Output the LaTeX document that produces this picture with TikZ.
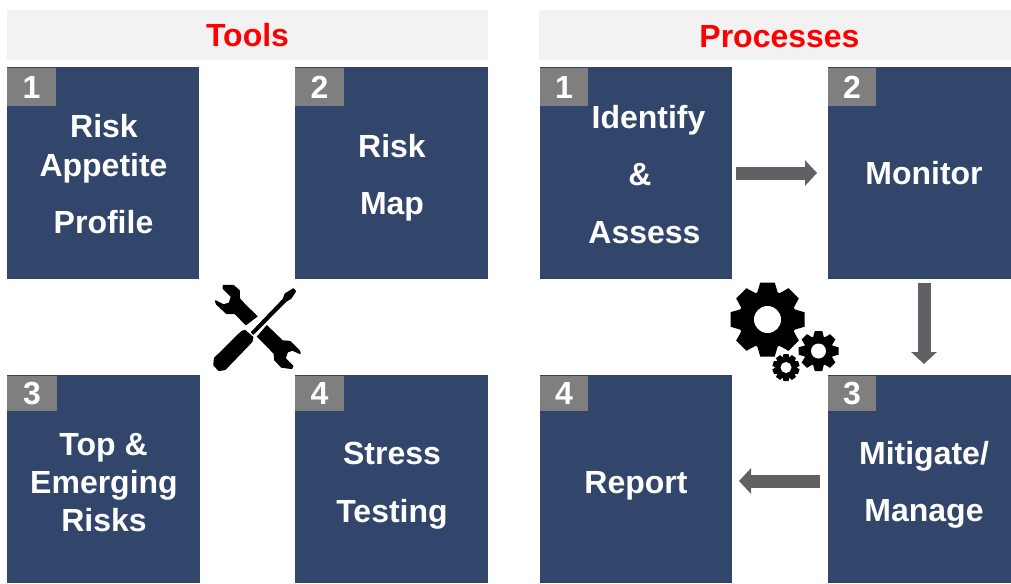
\documentclass[tikz,border=0pt]{standalone}
\usepackage{fontspec}
\setmainfont{Liberation Sans}
\usetikzlibrary{arrows.meta}
\def\px{0.75pt}
\definecolor{boxblue}{RGB}{50,70,107}
\definecolor{taggrey}{RGB}{127,127,127}
\definecolor{arrowgrey}{RGB}{97,97,101}
\definecolor{barcol}{RGB}{242,242,242}
\tikzset{
	panelbox/.style={fill=boxblue,anchor=north west,inner sep=0,outer sep=0},
	tagbox/.style={fill=taggrey,anchor=north west,inner sep=0,outer sep=0,text=white,font=\bfseries\fontsize{24pt}{24pt}\selectfont},
	headbar/.style={fill=barcol,anchor=north west,inner sep=0,outer sep=0,minimum height=50*\px},
	headtext/.style={anchor=base,text=red,font=\bfseries\fontsize{24pt}{24pt}\selectfont},
	boxtext/.style={anchor=base,text=white,font=\bfseries\fontsize{24pt}{24pt}\selectfont},
	flowarrow/.style={draw=arrowgrey,line width=13*\px,-{Triangle[length=12*\px,width=25*\px]}},
	toolshape/.style={fill=black,draw=black,line width=1.5*\px,line join=round}
}
% teeth are trapezoids on a disc: center, outer radius, root radius, hole radius, teeth
\newcommand{\gearicon}[5]{
	\fill[black] #1 circle (#3);
	\foreach \a in {1,...,#5} {
		\fill[black,shift={#1},rotate=\a*360/#5]
			(-#3*0.36,#3*0.9) -- (-#3*0.25,#2) -- (#3*0.25,#2) -- (#3*0.36,#3*0.9) -- cycle;
	}
	\fill[white] #1 circle (#4);
}
\begin{document}
\begin{tikzpicture}[x=\px,y=-\px]
	\useasboundingbox (0,0) rectangle (1011,583);
	% headers
	\node[headbar,minimum width=481*\px] (toolsbar) at (7,10) {};
	\node[headbar,minimum width=472*\px] (procbar) at (539,10) {};
	\node[headtext] (toolstitle) at (247.5,46) {Tools};
	\node[headtext] (proctitle) at (779.5,47) {Processes};
	% tools
	\node[panelbox,minimum width=192*\px,minimum height=212*\px] (riskprofile) at (7,67) {};
	\node[panelbox,minimum width=193*\px,minimum height=212*\px] (riskmap) at (295,67) {};
	\node[panelbox,minimum width=193*\px,minimum height=208*\px] (toprisks) at (7,375) {};
	\node[panelbox,minimum width=193*\px,minimum height=208*\px] (stresstest) at (295,375) {};
	\node[tagbox,minimum width=49*\px,minimum height=38*\px] (toolone) at (7,68) {1};
	\node[tagbox,minimum width=49*\px,minimum height=38*\px] (tooltwo) at (295,68) {2};
	\node[tagbox,minimum width=50*\px,minimum height=35*\px] (toolthree) at (7,376) {3};
	\node[tagbox,minimum width=49*\px,minimum height=35*\px] (toolfour) at (295,376) {4};
	\node[boxtext] (riskA) at (104,137) {Risk};
	\node[boxtext] (riskB) at (103.5,176) {Appetite};
	\node[boxtext] (riskC) at (103.5,233) {Profile};
	\node[boxtext] (mapA) at (392,157) {Risk};
	\node[boxtext] (mapB) at (392,214) {Map};
	\node[boxtext] (topA) at (103.5,455) {Top \&};
	\node[boxtext] (topB) at (104,493.5) {Emerging};
	\node[boxtext] (topC) at (104,531) {Risks};
	\node[boxtext] (stressA) at (392,464) {Stress};
	\node[boxtext] (stressB) at (392,522) {Testing};
	% processes
	\node[panelbox,minimum width=192*\px,minimum height=212*\px] (identify) at (540,67) {};
	\node[panelbox,minimum width=183*\px,minimum height=212*\px] (monitor) at (828,67) {};
	\node[panelbox,minimum width=183*\px,minimum height=208*\px] (mitigate) at (828,375) {};
	\node[panelbox,minimum width=192*\px,minimum height=208*\px] (report) at (540,375) {};
	\node[tagbox,minimum width=48*\px,minimum height=38*\px] (procone) at (540,68) {1};
	\node[tagbox,minimum width=48*\px,minimum height=38*\px] (proctwo) at (828,68) {2};
	\node[tagbox,minimum width=48*\px,minimum height=35*\px] (procthree) at (828,376) {3};
	\node[tagbox,minimum width=48*\px,minimum height=35*\px] (procfour) at (540,376) {4};
	\node[boxtext] (idA) at (648.5,128) {Identify};
	\node[boxtext] (idB) at (640,185) {\&};
	\node[boxtext] (idC) at (644.5,243) {Assess};
	\node[boxtext] (monA) at (924,184) {Monitor};
	\node[boxtext] (mitA) at (924,464) {Mitigate/};
	\node[boxtext] (mitB) at (924,521.5) {Manage};
	\node[boxtext] (repA) at (636,493) {Report};
	% flow
	\draw[flowarrow,shorten <=4*\px,shorten >=11*\px] (identify.east) -- (monitor.west);
	\draw[flowarrow,shorten <=4*\px,shorten >=11*\px] ([xshift=4.5*\px]monitor.south) -- ([xshift=4.5*\px]mitigate.north);
	\draw[flowarrow,shorten <=8*\px,shorten >=7*\px] ([yshift=-2*\px]mitigate.west) -- ([yshift=-2*\px]report.east);
	% wrench and screwdriver
	\begin{scope}[shift={(200,270)},scale=1/3]
		\draw[toolshape] (70,47) -- (100,47) -- (117,62) -- (117,85) -- (135,105) -- (247,213) -- (270,215) -- (298,243) -- (300,250)
			-- (278,240) -- (262,245) -- (255,265) -- (278,288) -- (275,295) -- (245,291) -- (225,270) -- (223,250)
			-- (105,130) -- (80,130) -- (50,102) -- (47,93) -- (70,105) -- (88,100) -- (95,80) -- (70,55) -- cycle;
		\fill[white] (262,72) -- (272,82) -- (165,205) -- (125,172) -- (140,165) -- cycle;
		\draw[toolshape] (280,57) -- (286,64) -- (272,85) -- (258,93) -- (160,192) -- (155,187) -- (250,88) -- (256,72) -- cycle;
		\draw[toolshape] (125,185) -- (135,182) -- (158,202) -- (155,215) -- (75,298) -- (57,301) -- (42,285) -- (44,265) -- cycle;
	\end{scope}
	% gears
	\gearicon{(767.5,319.5)}{37*\px}{29*\px}{13.5*\px}{8}
	\gearicon{(818.5,351)}{20*\px}{15*\px}{7.5*\px}{8}
	\gearicon{(786,367.5)}{13.5*\px}{10*\px}{5.5*\px}{10}
\end{tikzpicture}
\end{document}
